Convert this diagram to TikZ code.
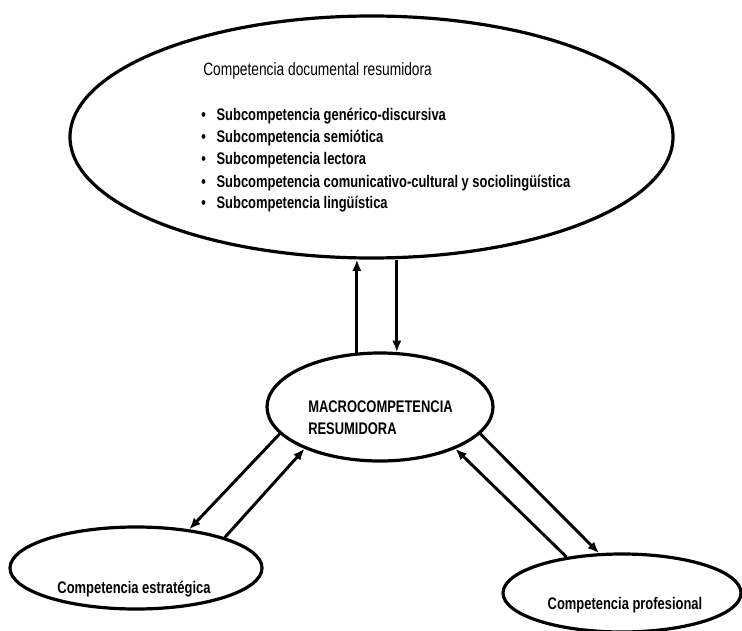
\documentclass[tikz,border=0pt]{standalone}
\usepackage{fontspec}
\setmainfont{Liberation Sans}[FakeStretch=0.77]
\usetikzlibrary{shapes.geometric,arrows.meta}
\tikzset{
  compnode/.style={ellipse, draw, line width=2.4pt, inner sep=0pt},
  texto/.style={inner sep=0pt, font=\fontsize{12.6}{16.5}\selectfont\bfseries},
  textoreg/.style={inner sep=0pt, font=\fontsize{13.4}{16.5}\selectfont},
  flecha/.style={line width=2.2pt, -{Latex[length=8.5pt,width=7pt]}},
}
\newcommand{\itembul}{\makebox[11.5pt][l]{\textbullet}}
\begin{document}
\begin{tikzpicture}[x=0.75pt,y=0.75pt,yscale=-1,xscale=1]
\useasboundingbox (0,0) rectangle (742,631);
% elipses
\draw (371.5,137) node [compnode, minimum width=452.25pt, minimum height=181.5pt] (doc) {};
\draw (380,407) node [compnode, minimum width=169.5pt, minimum height=81pt] (macro) {};
\draw (136,568) node [compnode, minimum width=189pt, minimum height=61.5pt] (estr) {};
\draw (622,593) node [compnode, minimum width=178.5pt, minimum height=58.5pt] (prof) {};
% textos
\draw (203,76) node [anchor=base west][textoreg] (tdoc) {Competencia documental resumidora};
\draw (201,121) node [anchor=base west][texto] (sub1) {\itembul Subcompetencia genérico-discursiva};
\draw (201,143) node [anchor=base west][texto] (sub2) {\itembul Subcompetencia semiótica};
\draw (201,165) node [anchor=base west][texto] (sub3) {\itembul Subcompetencia lectora};
\draw (201,187) node [anchor=base west][texto] (sub4) {\itembul Subcompetencia comunicativo-cultural y sociolingüística};
\draw (201,209) node [anchor=base west][texto] (sub5) {\itembul Subcompetencia lingüística};
\draw (308,412) node [anchor=base west][texto] (tmacro1) {MACROCOMPETENCIA};
\draw (308,434) node [anchor=base west][texto] (tmacro2) {RESUMIDORA};
\draw (134,593) node [anchor=base][texto] (testr) {Competencia estratégica};
\draw (625,609) node [anchor=base][texto] (tprof) {Competencia profesional};
% flechas
\draw [flecha] (macro.113.5) -- (macro.113.5 |- doc.south);
\draw [flecha] (macro.73.3 |- doc.south) -- (macro.73.3);
\draw [flecha] (macro.195.2) -- (estr.36.5);
\draw [flecha] (estr.19.6) -- (macro.209.8);
\draw [flecha] (prof.147.9) -- (macro.331.7);
\draw [flecha] (macro.345.6) -- (prof.120);
\end{tikzpicture}
\end{document}
